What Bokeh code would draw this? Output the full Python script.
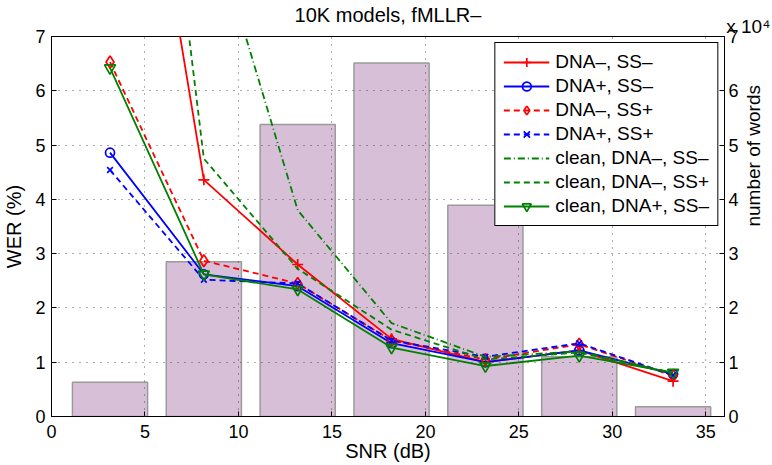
import math
from bokeh.plotting import figure
from bokeh.models import (Range1d, LinearAxis, FixedTicker, CustomJSTickFormatter,
                          Legend, LegendItem)
from bokeh.embed import file_html
from bokeh.resources import INLINE

# ---------------- data ----------------
snr = [3.13, 8.15, 13.17, 18.19, 23.21, 28.23, 33.25]
words = [6300, 28500, 53800, 65100, 38900, 11000, 1800]

dna_m_ss_m = [14.8, 4.36, 2.80, 1.43, 1.00, 1.22, 0.65]
dna_p_ss_m = [4.86, 2.62, 2.40, 1.35, 1.00, 1.22, 0.78]
dna_m_ss_p = [6.53, 2.87, 2.45, 1.40, 1.05, 1.33, 0.75]
dna_p_ss_p = [4.54, 2.52, 2.45, 1.40, 1.10, 1.35, 0.76]
clean_dna_m_ss_m = [14.0, 9.57, 3.80, 1.72, 1.10, 1.20, 0.80]
clean_dna_m_ss_p = [19.0, 4.75, 2.72, 1.60, 1.05, 1.18, 0.80]
clean_dna_p_ss_m = [6.42, 2.62, 2.34, 1.27, 0.93, 1.12, 0.81]

labels = ["DNA\u2013, SS\u2013", "DNA+, SS\u2013", "DNA\u2013, SS+", "DNA+, SS+",
          "clean, DNA\u2013, SS\u2013", "clean, DNA\u2013, SS+", "clean, DNA+, SS\u2013"]
title_text = "10K models, fMLLR\u2013"
x_ticks = [0, 5, 10, 15, 20, 25, 30, 35]
y_ticks = [0, 1, 2, 3, 4, 5, 6, 7]
word_ticks = [0, 10000, 20000, 30000, 40000, 50000, 60000, 70000]

FONT = "Liberation Sans"

p = figure(frame_width=673, frame_height=380,
           x_range=Range1d(0, 36), y_range=Range1d(0, 7),
           output_backend="svg", toolbar_location=None,
           min_border_left=43, min_border_right=48, min_border_top=29, min_border_bottom=48,
           background_fill_color="white", border_fill_color="white")
p.extra_y_ranges = {"words": Range1d(0, 70000)}
p.extra_x_ranges = {"top": Range1d(0, 1)}
p.title.visible = False

p.outline_line_color = "black"
p.outline_line_width = 1
p.outline_line_alpha = 1

# bars (number of words)
p.vbar(x=snr, width=4.02, top=words, bottom=0, y_range_name="words",
       fill_color="#d8bfd8", line_color="#9a9a9a", line_width=1.5)

styles = [
    (dna_m_ss_m, "#ff0000", "solid", "cross", 11),
    (dna_p_ss_m, "#0000ff", "solid", "circle", 9),
    (dna_m_ss_p, "#ff0000", "6 4", "diamond", 12),
    (dna_p_ss_p, "#0000ff", "6 4", "x", 8),
    (clean_dna_m_ss_m, "#008000", "7 3 1 3", None, 0),
    (clean_dna_m_ss_p, "#008000", "6 4", None, 0),
    (clean_dna_p_ss_m, "#008000", "solid", "inverted_triangle", 11),
]
items = []
for (vals, col, dash, mk, sz), lab in zip(styles, labels):
    rs = [p.line(snr, vals, line_color=col, line_width=1.8, line_dash=dash)]
    if mk is not None:
        rs.append(p.scatter(snr, vals, marker=mk, size=sz, line_color=col,
                            fill_color=None, line_width=1.7))
    items.append(LegendItem(label=lab, renderers=rs))


def style_axis(ax, tick_size="18px", label_size="20px"):
    ax.major_tick_in = 5
    ax.major_tick_out = 0
    ax.minor_tick_line_color = None
    ax.axis_line_color = "black"
    ax.major_tick_line_color = "black"
    ax.major_label_text_font = FONT
    ax.major_label_text_font_size = tick_size
    ax.major_label_text_color = "black"
    ax.axis_label_text_font = FONT
    ax.axis_label_text_font_size = label_size
    ax.axis_label_text_font_style = "normal"
    ax.axis_label_text_color = "black"


style_axis(p.xaxis[0])
style_axis(p.yaxis[0])
p.xaxis.ticker = FixedTicker(ticks=x_ticks)
p.yaxis.ticker = FixedTicker(ticks=y_ticks)
p.xaxis.axis_label = "SNR (dB)"
p.yaxis.axis_label = "WER (%)"
p.xaxis.major_label_standoff = 8
p.xaxis.axis_label_standoff = -1
p.yaxis.major_label_standoff = 6
p.yaxis.axis_label_standoff = 7

# right axis: number of words
rax = LinearAxis(y_range_name="words", ticker=FixedTicker(ticks=word_ticks),
                 formatter=CustomJSTickFormatter(code="return (tick/10000).toFixed(0);"),
                 axis_label="number of words")
style_axis(rax, label_size="19px")
rax.major_label_standoff = 4
rax.axis_label_standoff = 12
try:
    rax.axis_label_orientation = math.pi / 2
except Exception:
    pass
p.add_layout(rax, "right")

# top axis: carries the title (axis label) and the "x 10^4" multiplier (tick label)
tax = LinearAxis(x_range_name="top", ticker=FixedTicker(ticks=[1.0]),
                 formatter=CustomJSTickFormatter(
                     code="return '\\u00a0\\u00a0\\u00a0\\u00a0\\u00a0\\u00a0\\u00a0\\u00a0\\u00a0x 10\\u2074';"),
                 axis_label=title_text)
style_axis(tax, tick_size="19px")
tax.axis_line_color = None
tax.major_tick_line_color = None
tax.major_label_standoff = 0
tax.axis_label_standoff = -13
p.add_layout(tax, "above")

# grid
for g in (p.xgrid[0], p.ygrid[0]):
    g.grid_line_color = "#333333"
    g.grid_line_alpha = 0.8
    g.grid_line_dash = "1 6"
    g.grid_line_width = 1
    g.level = "guide"

legend = Legend(items=items, location="top_right", margin=6, padding=8, spacing=2,
                glyph_width=46, glyph_height=22, label_height=22, label_standoff=6,
                label_text_font=FONT, label_text_font_size="19px", label_text_color="black",
                border_line_color="black", border_line_width=1, border_line_alpha=1,
                background_fill_color="white", background_fill_alpha=1)
p.add_layout(legend)

open("out.html", "w").write(file_html(p, INLINE))
